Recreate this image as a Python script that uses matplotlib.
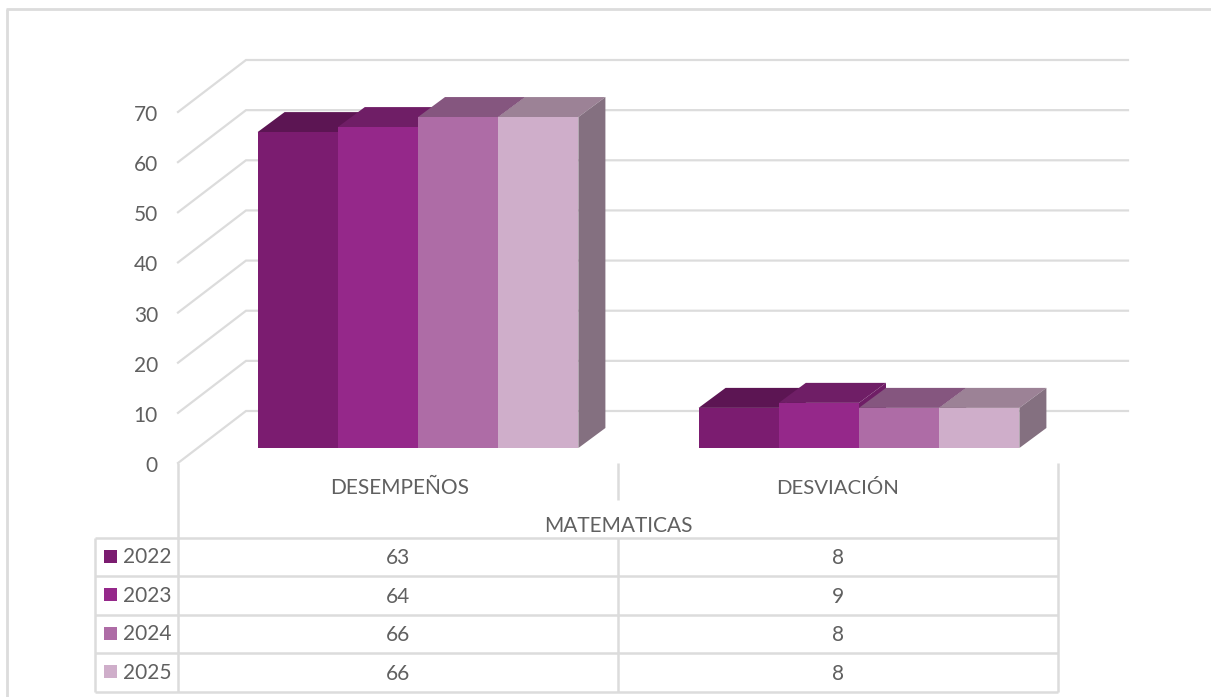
import matplotlib
matplotlib.use('Agg')
from matplotlib import pyplot as plt
from matplotlib.patches import Polygon, Rectangle
from matplotlib.transforms import ScaledTranslation

plt.rcParams['font.family'] = ['Lato', 'DejaVu Sans']

years = ['2022', '2023', '2024', '2025']
categories = ['DESEMPEÑOS', 'DESVIACIÓN']
group_label = 'MATEMATICAS'
desempenos = [63, 64, 66, 66]
desviacion = [8, 9, 8, 8]
yticks = [0, 10, 20, 30, 40, 50, 60, 70]

front = ['#7b1c70', '#95288a', '#ae6ca6', '#cfaeca']
top = ['#5c1553', '#6f1e66', '#85567f', '#9c8296']
side = '#847080'
grid = '#dcdcdc'
text_col = '#606060'

W, H = 1211, 697
DPI = 100
fig = plt.figure(figsize=(W / DPI, H / DPI), dpi=DPI)

# overlay in pixels for the frame and table rules
over = fig.add_axes([0, 0, 1, 1])
over.set_xlim(0, W)
over.set_ylim(H, 0)
over.axis('off')

# chart axes: front floor edge 178..1058 px, value 0 at 463 px, 70 at 112 px
left, right, y0, y70 = 178, 1058, 463, 112
ax = fig.add_axes([left / W, 1 - y0 / H, (right - left) / W, (y0 - y70) / H])
ax.set_xlim(0, 2)
ax.set_ylim(0, 70)
ax.axis('off')
ax.patch.set_alpha(0)


def shifted(dx, dy):
    return ax.transData + ScaledTranslation(dx / DPI, dy / DPI, fig.dpi_scale_trans)


px_x = 2 / (right - left)
px_y = 70 / (y0 - y70)
back_dx, back_dy = 68, 52
bar_dx, bar_dy = 20, 15
depth_dx, depth_dy = 27, 20
bar_w = 80.2 * px_x
group_step = 441 * px_x
right_end = 1128

# gridlines, diagonal wall plus back wall
for v in yticks:
    ax.plot([0, back_dx * px_x, (right_end - left) * px_x],
            [v, v + back_dy * px_y, v + back_dy * px_y],
            color=grid, lw=1.6, clip_on=False, solid_joinstyle='miter', zorder=1)
    ax.text(-20 * px_x, v, str(v), ha='right', va='center', fontsize=15, color=text_col,
            transform=shifted(0, -3))

# bars, drawn left to right so later sides sit on top
tr = shifted(bar_dx, bar_dy)
dw, dh = depth_dx * px_x, depth_dy * px_y
for c, values in enumerate([desempenos, desviacion]):
    x0 = c * group_step + 0.5 - 2 * bar_w
    for i, v in enumerate(values):
        xa = x0 + i * bar_w
        xb = xa + bar_w
        ax.add_patch(Polygon([(xa, v), (xb, v), (xb + dw, v + dh), (xa + dw, v + dh)],
                             closed=True, fc=top[i], ec='none', transform=tr,
                             clip_on=False, zorder=3 + i))
        ax.add_patch(Polygon([(xb, 0), (xb + dw, dh), (xb + dw, v + dh), (xb, v)],
                             closed=True, fc=side if i == 3 else top[i], ec='none',
                             transform=tr, clip_on=False, zorder=3 + i))
    # front faces last, over every top
    for i, v in enumerate(values):
        ax.bar(x0 + i * bar_w, v, width=bar_w, align='edge', color=front[i],
               transform=tr, clip_on=False, zorder=8)

# data table
rows = [537.5, 576, 614.5, 653, 691.5]
tl = 94.5
mid = 618
rule = dict(color=grid, lw=1.8, solid_capstyle='butt')
for r in rows:
    over.plot([tl, right], [r, r], **rule)
over.plot([left, left], [y0, rows[-1]], **rule)
over.plot([right, right], [y0, rows[-1]], **rule)
over.plot([mid, mid], [y0, 500], **rule)
over.plot([mid, mid], [rows[0], rows[-1]], **rule)
over.plot([tl, tl], [rows[0], rows[-1]], **rule)

over.text((left + mid) / 2 + 2, 488, categories[0], ha='center', va='center',
          fontsize=15, color=text_col)
over.text((mid + right) / 2, 488, categories[1], ha='center', va='center',
          fontsize=14.7, color=text_col)
over.text(mid, 526, group_label, ha='center', va='center', fontsize=15, color=text_col)

for i, year in enumerate(years):
    cy = (rows[i] + rows[i + 1]) / 2 - 0.5
    over.add_patch(Rectangle((103.5, cy - 6.5), 13, 13, fc=front[i], ec='none'))
    over.text(123, cy + 1, year, ha='left', va='center', fontsize=15, color=text_col)
    over.text((left + mid) / 2, cy + 2, str(desempenos[i]), ha='center', va='center',
              fontsize=15, color=text_col)
    over.text((mid + right) / 2, cy + 2, str(desviacion[i]), ha='center', va='center',
              fontsize=15, color=text_col)

# outer frame of the chart area: left and top edges only
frame = dict(color='#dcdcdc', lw=2, solid_capstyle='butt')
over.plot([7, 7], [9, H], **frame)
over.plot([6, W], [9, 9], **frame)

fig.savefig('out.png', dpi=DPI)
